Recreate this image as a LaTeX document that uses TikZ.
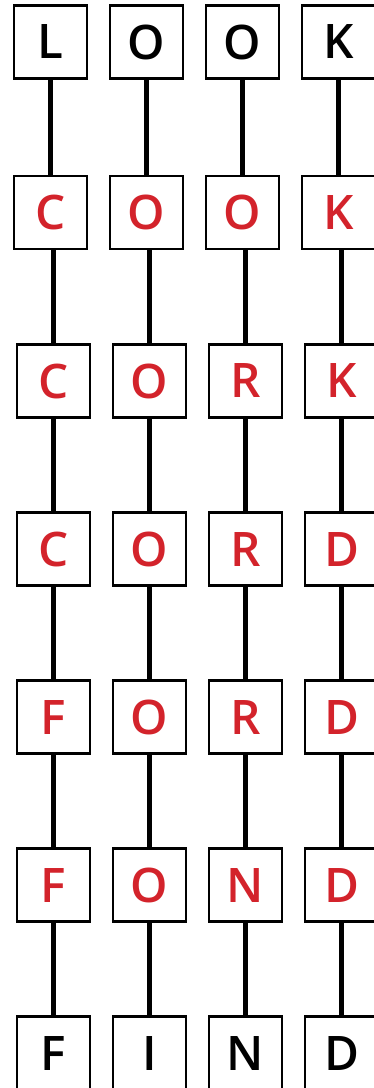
\documentclass[tikz,border=0pt]{standalone}
\usepackage{fontspec}
\setmainfont{Open Sans}[BoldFont={Open Sans Semibold}]
\usepackage{tikz}
\usetikzlibrary{positioning}
\definecolor{wordred}{RGB}{211,35,43}

\begin{document}
\begin{tikzpicture}[x=1pt, y=1pt,
        main/.style = {draw, line width=2.3pt, minimum size=73pt, inner sep=0pt,
            font=\fontsize{47.6}{48}\selectfont\bfseries},
        changed/.style = {main, text=wordred},
        link/.style = {line width=4.5pt}]
            \useasboundingbox (0,0) rectangle (374,-1088);

            % start word
            \node[main] (look1) at (50.5,-42) {L};
            \node[main] (look2) at (146.5,-42) {O};
            \node[main] (look3) at (242.5,-42) {O};
            \node[main] (look4) at (338.5,-42) {K};

            \node[changed] (cook1) at (50.5,-212.5) {C};
            \node[changed] (cook2) at (146.5,-212.5) {O};
            \node[changed] (cook3) at (242.5,-212.5) {O};
            \node[changed] (cook4) at (338.5,-212.5) {K};

            \node[changed] (cork1) at (53.5,-381) {C};
            \node[changed] (cork2) at (149.5,-381) {O};
            \node[changed] (cork3) at (245.5,-381) {R};
            \node[changed] (cork4) at (341.5,-381) {K};

            \node[changed] (cord1) at (53.5,-549) {C};
            \node[changed] (cord2) at (149.5,-549) {O};
            \node[changed] (cord3) at (245.5,-549) {R};
            \node[changed] (cord4) at (341.5,-549) {D};

            \node[changed] (ford1) at (53.5,-717) {F};
            \node[changed] (ford2) at (149.5,-717) {O};
            \node[changed] (ford3) at (245.5,-717) {R};
            \node[changed] (ford4) at (341.5,-717) {D};

            \node[changed] (fond1) at (53.5,-885) {F};
            \node[changed] (fond2) at (149.5,-885) {O};
            \node[changed] (fond3) at (245.5,-885) {N};
            \node[changed] (fond4) at (341.5,-885) {D};

            % end word
            \node[main] (find1) at (53.5,-1053) {F};
            \node[main] (find2) at (149.5,-1053) {I};
            \node[main] (find3) at (245.5,-1053) {N};
            \node[main] (find4) at (341.5,-1053) {D};

            \path[link] (look1) edge (cook1) (cork1.north) edge (cork1.north |- cook1.south)
                (cork1) edge (cord1) (cord1) edge (ford1) (ford1) edge (fond1) (fond1) edge (find1);
            \path[link] (look2) edge (cook2) (cork2.north) edge (cork2.north |- cook2.south)
                (cork2) edge (cord2) (cord2) edge (ford2) (ford2) edge (fond2) (fond2) edge (find2);
            \path[link] (look3) edge (cook3) (cork3.north) edge (cork3.north |- cook3.south)
                (cork3) edge (cord3) (cord3) edge (ford3) (ford3) edge (fond3) (fond3) edge (find3);
            \path[link] (look4) edge (cook4) (cork4.north) edge (cork4.north |- cook4.south)
                (cork4) edge (cord4) (cord4) edge (ford4) (ford4) edge (fond4) (fond4) edge (find4);
        \end{tikzpicture}
\end{document}
